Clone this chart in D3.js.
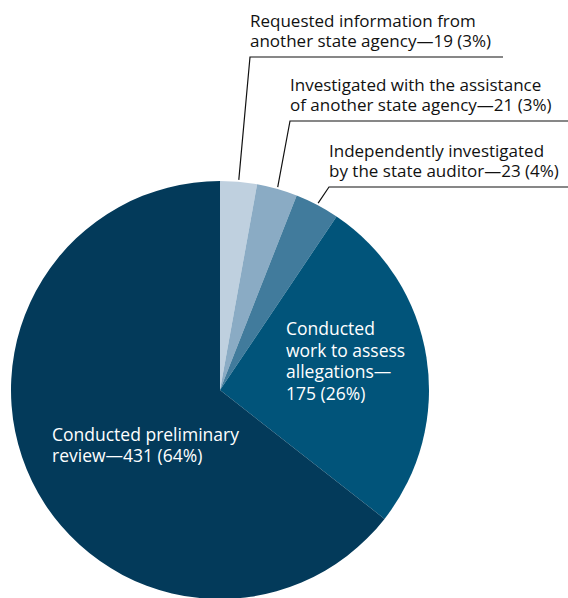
<!DOCTYPE html>
<meta charset="utf-8">
<head>
    <title>Complaint outcomes</title>
    <script src="https://d3js.org/d3.v7.min.js"></script>
    <style>
        body { margin: 0; background: #fff; }
        text { font-family: "Open Sans", sans-serif; }
    </style>
</head>
<body>
<script>
    // slices, clockwise from 12 o'clock
    var categories = [
        "Requested information from another state agency",
        "Investigated with the assistance of another state agency",
        "Independently investigated by the state auditor",
        "Conducted work to assess allegations",
        "Conducted preliminary review"
    ];
    var counts = [19, 21, 23, 175, 431];
    var percents = ["3%", "3%", "4%", "26%", "64%"];
    var colors = ["#bfd0df", "#8aabc4", "#417b9c", "#01547a", "#033a5a"];

    // label lines as printed
    var labelLines = [
        ["Requested information from", "another state agency\u201419 (3%)"],
        ["Investigated with the assistance", "of another state agency\u201421 (3%)"],
        ["Independently investigated", "by the state auditor\u201423 (4%)"],
        ["Conducted", "work to assess", "allegations\u2014", "175 (26%)"],
        ["Conducted preliminary", "review\u2014431 (64%)"]
    ];

    var width = 568, height = 598;
    var cx = 220, cy = 390, r = 209;

    var svg = d3.select("body").append("svg")
        .attr("width", width)
        .attr("height", height);

    var pie = d3.pie().sort(null).value(function (d) { return d; });
    var arc = d3.arc().innerRadius(0).outerRadius(r);
    var arcs = pie(counts);

    var g = svg.append("g").attr("transform", "translate(" + cx + "," + cy + ")");

    g.selectAll("path")
        .data(arcs)
        .enter().append("path")
        .attr("d", arc)
        .attr("fill", function (d, i) { return colors[i]; });

    // outside labels for the three small slices
    var outside = [
        { i: 0, lx: 250, ly: 57, endX: 503, tx: 250, ty: 27 },
        { i: 1, lx: 290, ly: 121, endX: 568, tx: 290, ty: 91 },
        { i: 2, lx: 329, ly: 187, endX: 568, tx: 329, ty: 157 }
    ];

    outside.forEach(function (o) {
        var a = arcs[o.i];
        var mid = (a.startAngle + a.endAngle) / 2;
        var x0 = cx + Math.sin(mid) * (r + 2);
        var y0 = cy - Math.cos(mid) * (r + 2);
        svg.append("polyline")
            .attr("points", [[x0, y0], [o.lx, o.ly], [o.endX, o.ly]].map(function (p) { return p.join(","); }).join(" "))
            .attr("fill", "none")
            .attr("stroke", "#111")
            .attr("stroke-width", 1.2);
        labelLines[o.i].forEach(function (line, k) {
            svg.append("text")
                .attr("x", o.tx)
                .attr("y", o.ty + k * 20)
                .attr("font-size", 17)
                .attr("fill", "#111")
                .text(line);
        });
    });

    // inside labels
    var inside = [
        { i: 3, x: 286, y: 335, dy: 21.7 },
        { i: 4, x: 52, y: 441, dy: 20.5 }
    ];
    inside.forEach(function (o) {
        labelLines[o.i].forEach(function (line, k) {
            svg.append("text")
                .attr("x", o.x)
                .attr("y", o.y + k * o.dy)
                .attr("font-size", 17.5)
                .attr("fill", "#fff")
                .text(line);
        });
    });
</script>
</body>
</html>
